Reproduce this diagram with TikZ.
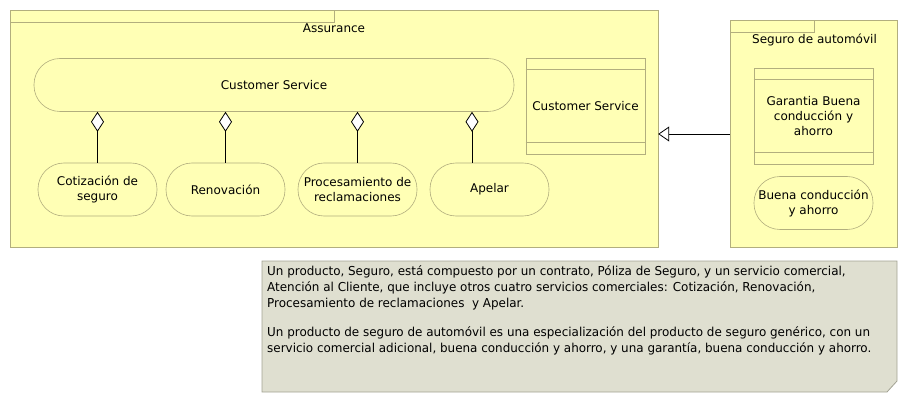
\documentclass[tikz,border=0pt]{standalone}
\usepackage{fontspec}
\setmainfont{DejaVu Sans}
\newfontfamily\notefont[FakeStretch=1.08]{DejaVu Sans Condensed}
\usetikzlibrary{arrows.meta,calc}
\definecolor{pkgfill}{HTML}{FFFFB5}
\definecolor{pkgline}{HTML}{B2AE7E}
\definecolor{notefill}{HTML}{DFDFD0}
\definecolor{noteline}{HTML}{A3A394}
\tikzset{
  pkg/.style={draw=pkgline, fill=pkgfill, line width=0.8pt},
  svc/.style={draw=pkgline, fill=pkgfill, line width=0.6pt, rounded corners=26pt,
    minimum width=119pt, minimum height=53pt, inner sep=0pt, align=center,
    font=\fontsize{12pt}{15pt}\selectfont},
  contract/.style={draw=pkgline, fill=pkgfill, line width=0.8pt,
    minimum width=119pt, minimum height=96pt, inner sep=0pt, align=center,
    font=\fontsize{12pt}{15pt}\selectfont},
  band/.style={draw=pkgline, line width=0.8pt},
  ttl/.style={font=\fontsize{12pt}{15pt}\selectfont, inner sep=0pt},
  agg/.style={draw=black, line width=0.8pt, {Diamond[open,fill=white,length=20pt,width=13pt,line width=0.8pt]}-},
  gen/.style={draw=black, line width=0.8pt, -{Triangle[open,fill=white,length=11pt,width=15pt,line width=0.8pt]}},
}
\begin{document}
\begin{tikzpicture}[x=1pt,y=-1pt]
\useasboundingbox (0,0) rectangle (909,403);
% Assurance package
\draw[pkg] (10,10) rectangle (658,247);
\draw[pkgline, line width=0.8pt] (10,22) -- (334,22) -- (334,10);
\node (ass) [minimum width=648pt, minimum height=237pt, inner sep=0pt] at (334,128.5) {};
\node[ttl] (asst) at (334,28.5) {Assurance};
% Seguro package
\draw[pkg] (730,20) rectangle (897,247);
\draw[pkgline, line width=0.8pt] (730,32) -- (814,32) -- (814,20);
\node (seg) [minimum width=167pt, minimum height=227pt, inner sep=0pt] at (813.5,133.5) {};
\node[ttl] (segt) at (814.5,39.5) {Seguro de automóvil};
% Customer service (business service)
\node[svc, minimum width=480pt] (cs) at (274,85) {Customer Service};
\node[svc] (cot) at (97.5,189.5) {Cotización de\\seguro};
\node[svc] (ren) at (225.5,189.5) {Renovación};
\node[svc] (proc) at (357.5,189.5) {Procesamiento de\\reclamaciones};
\node[svc] (apel) at (489.5,189.5) {Apelar};
% contract
\node[contract] (con) at (585.5,106) {Customer Service};
\draw[band] ([yshift=-12pt]con.north west) -- ([yshift=-12pt]con.north east);
\draw[band] ([yshift=12pt]con.south west) -- ([yshift=12pt]con.south east);
\node[contract] (gar) at (813.5,116) {Garantia Buena\\conducción y\\ahorro};
\draw[band] ([yshift=-12pt]gar.north west) -- ([yshift=-12pt]gar.north east);
\draw[band] ([yshift=12pt]gar.south west) -- ([yshift=12pt]gar.south east);
\node[svc] (buena) at (813.5,203) {Buena conducción\\y ahorro};
% aggregation
\draw[agg] (cot.north |- cs.south) -- (cot.north);
\draw[agg] (ren.north |- cs.south) -- (ren.north);
\draw[agg] (proc.north |- cs.south) -- (proc.north);
\draw[agg] ([xshift=-17.5pt]apel.north |- cs.south) -- ([xshift=-17.5pt]apel.north);
% generalization
\coordinate (g1) at (seg.west |- 0,134);
\draw[gen] (g1) -- (ass.east |- g1);
% note
\draw[draw=noteline, fill=notefill, line width=0.8pt] (262,261) -- (897,261) -- (897,381) -- (887,392) -- (262,392) -- cycle;
\node (note) [anchor=north west, inner sep=0pt, align=left,
  font=\notefont\fontsize{12.3pt}{16pt}\selectfont] at (267,265.5)
 {Un producto, Seguro, está compuesto por un contrato, Póliza de Seguro, y un servicio comercial,\\
  Atención al Cliente, que incluye otros cuatro servicios comerciales: Cotización, Renovación,\\
  Procesamiento de reclamaciones \ y Apelar.\\[13pt]
  Un producto de seguro de automóvil es una especialización del producto de seguro genérico, con un\\
  servicio comercial adicional, buena conducción y ahorro, y una garantía, buena conducción y ahorro.};
\end{tikzpicture}
\end{document}
